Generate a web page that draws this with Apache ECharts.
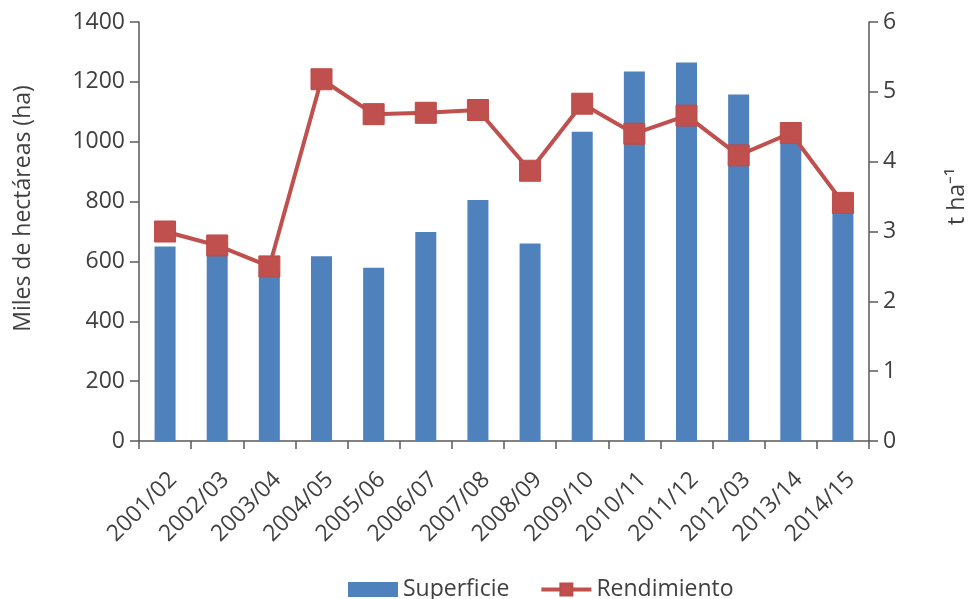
<!DOCTYPE html>
<html>
<head>
<meta charset="utf-8">
<script src="https://cdn.jsdelivr.net/npm/echarts@6/dist/echarts.min.js"></script>
<style>html,body{margin:0;padding:0;background:#fff;}#c{width:971px;height:599px;}</style>
</head>
<body>
<div id="c"></div>
<script>
const categories = ['2001/02','2002/03','2003/04','2004/05','2005/06','2006/07','2007/08','2008/09','2009/10','2010/11','2011/12','2012/03','2013/14','2014/15'];
const superficie = [650, 630, 570, 617, 579, 698, 805, 660, 1033, 1235, 1265, 1158, 1000, 780];
const rendimiento = [3.0, 2.8, 2.5, 5.18, 4.68, 4.70, 4.74, 3.87, 4.83, 4.40, 4.66, 4.09, 4.41, 3.41];
const leftTicks = {min: 0, max: 1400, interval: 200};
const rightTicks = {min: 0, max: 6, interval: 1};

const FONT = 'Open Sans';
const FS = 23;
const TXT = '#404040';
const AX = '#595959';

const chart = echarts.init(document.getElementById('c'), null, {renderer: 'canvas'});
chart.setOption({
  animation: false,
  backgroundColor: '#fff',
  textStyle: {fontFamily: FONT},
  grid: {left: 139, right: 102, top: 22, bottom: 158, containLabel: false, outerBoundsMode: 'none'},
  legend: {
    left: 343, top: 573,
    itemWidth: 50, itemHeight: 15, itemGap: 30,
    textStyle: {fontFamily: FONT, fontSize: FS, color: TXT},
    data: [
      {name: 'Superficie', icon: 'rect'},
      {name: 'Rendimiento', lineStyle: {width: 4}}
    ]
  },
  xAxis: {
    type: 'category',
    data: categories,
    boundaryGap: true,
    axisLine: {lineStyle: {color: AX, width: 1.5}},
    axisTick: {show: true, length: 8, inside: false, lineStyle: {color: AX, width: 1.5}},
    axisLabel: {rotate: 45, margin: 27, align: 'right', verticalAlign: 'top', fontFamily: FONT, fontSize: FS, color: TXT, interval: 0},
    splitLine: {show: false}
  },
  yAxis: [
    {
      type: 'value', position: 'left',
      min: leftTicks.min, max: leftTicks.max, interval: leftTicks.interval,
      name: 'Miles de hectáreas (ha)', nameLocation: 'middle', nameRotate: 90, nameGap: 104,
      nameTextStyle: {fontFamily: FONT, fontSize: FS, color: TXT, padding: [0, 0, 0, 46]},
      axisLine: {show: true, lineStyle: {color: AX, width: 1.5}},
      axisTick: {show: true, length: 9, inside: false, lineStyle: {color: AX, width: 1.5}},
      axisLabel: {fontFamily: FONT, fontSize: FS, color: TXT, margin: 14, formatter: v => String(v)},
      splitLine: {show: false}
    },
    {
      type: 'value', position: 'right',
      min: rightTicks.min, max: rightTicks.max, interval: rightTicks.interval,
      name: 't ha⁻¹', nameLocation: 'middle', nameRotate: 90, nameGap: 77,
      nameTextStyle: {fontFamily: FONT, fontSize: FS, color: TXT, padding: [0, 0, 0, 70]},
      axisLine: {show: true, lineStyle: {color: AX, width: 1.5}},
      axisTick: {show: true, length: 9, inside: false, lineStyle: {color: AX, width: 1.5}},
      axisLabel: {fontFamily: FONT, fontSize: FS, color: TXT, margin: 14},
      splitLine: {show: false}
    }
  ],
  series: [
    {
      name: 'Superficie', type: 'bar', yAxisIndex: 0,
      data: superficie, barWidth: 21,
      itemStyle: {color: '#4F81BD'}
    },
    {
      name: 'Rendimiento', type: 'line', yAxisIndex: 1,
      data: rendimiento,
      symbol: 'rect', symbolSize: 21, showAllSymbol: true,
      lineStyle: {color: '#C0504D', width: 4},
      itemStyle: {color: '#C0504D', borderColor: '#BE4B48', borderWidth: 1}
    }
  ]
});
</script>
</body>
</html>
